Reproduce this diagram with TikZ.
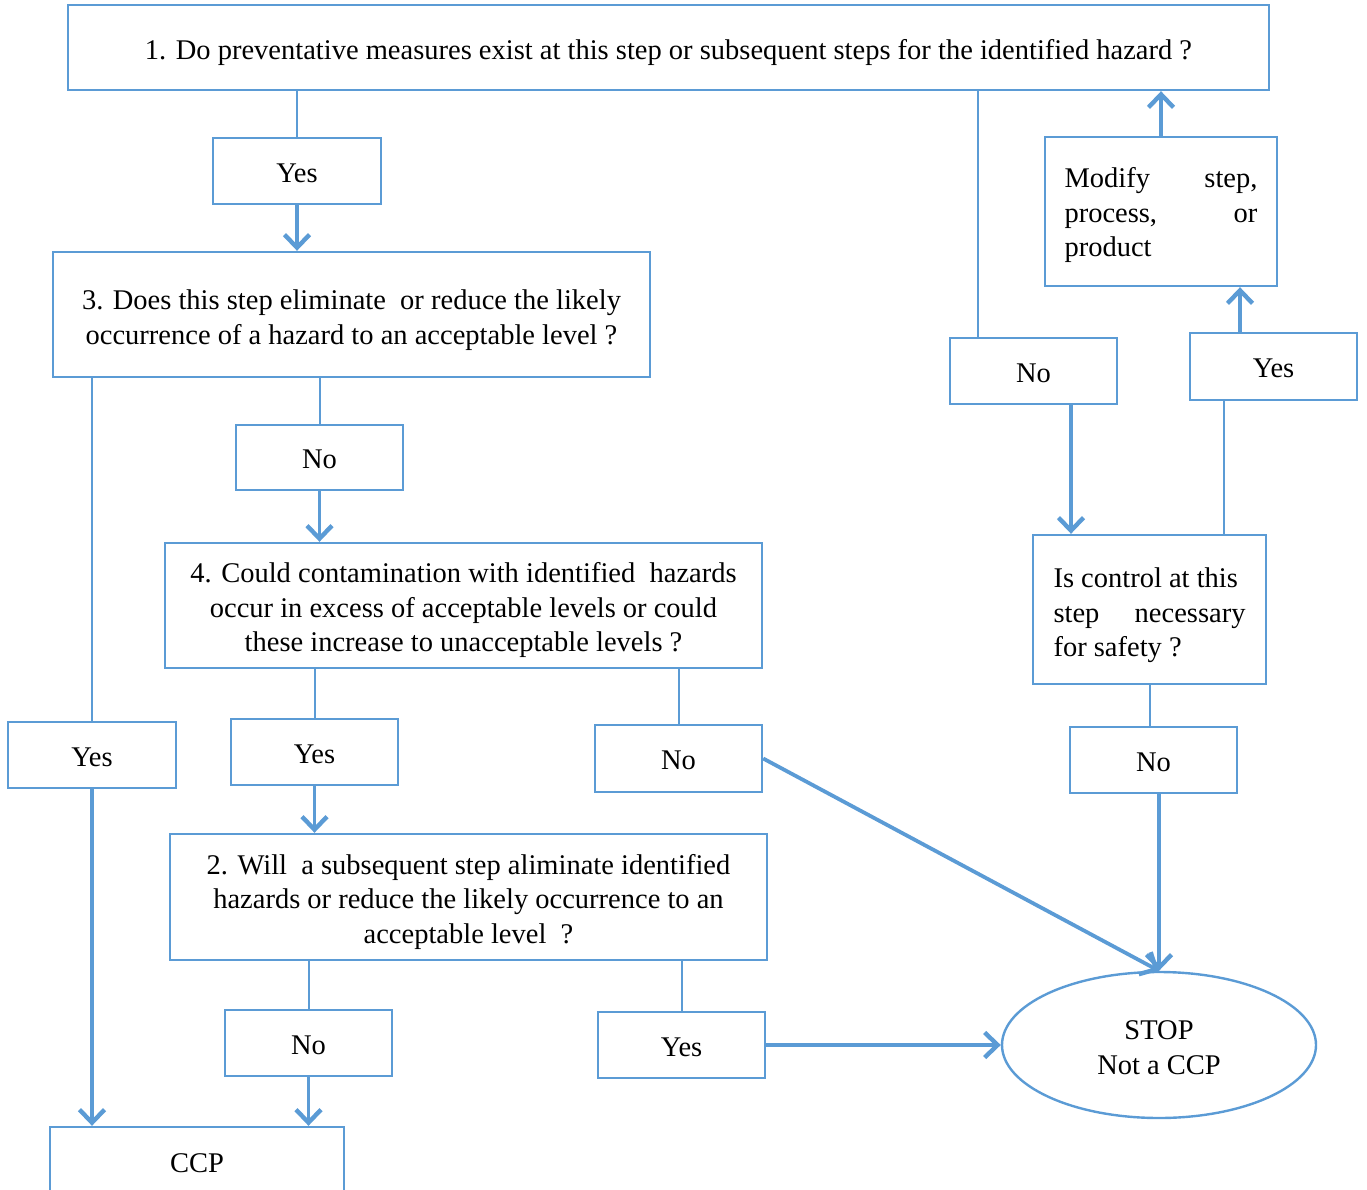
\documentclass[tikz,border=0pt]{standalone}
\usepackage{fontspec}
\setmainfont{Liberation Serif}
\usetikzlibrary{arrows.meta,shapes.geometric}
\definecolor{flowblue}{HTML}{5B9BD5}
% text lines set as a small table, drawn #1 lower than the box it is centred in
\newcommand\lowlines[3]{\raisebox{-#1}[\height][\depth]{\begin{tabular}{@{}#2@{}}#3\end{tabular}}}
\begin{document}
\begin{tikzpicture}[x=1pt,y=-1pt,
  font=\fontsize{28.5}{34.5}\selectfont,
  box/.style={draw=flowblue,line width=2.4pt,rectangle,inner sep=0pt},
  link/.style={draw=flowblue,line width=2pt},
  arr/.style={draw=flowblue,line width=3.8pt,-{Straight Barb[length=13pt,width=25pt,line width=4.4pt]}},
  every node/.style={text=black}]
\useasboundingbox (0,0) rectangle (1367,1190);
\clip (0,0) rectangle (1367,1190);

% question boxes
\node[box,minimum width=1201pt,minimum height=85pt] (b1) at (668.5,47.5)
  {\lowlines{5pt}{c}{1. Do preventative measures exist at this step or subsequent steps for the identified hazard ?}};
\node[box,minimum width=597pt,minimum height=125pt] (b3) at (351.5,314.5)
  {\lowlines{5.5pt}{c}{3. Does this step eliminate\ \ or reduce the likely\\occurrence of a hazard to an acceptable level ?}};
\node[box,minimum width=597pt,minimum height=125pt] (b4) at (463.5,605.5)
  {\lowlines{5pt}{c}{4. Could contamination with identified\ \ hazards\\occur in excess of acceptable levels or could\\these increase to unacceptable levels ?}};
\node[box,minimum width=597pt,minimum height=126pt] (b2) at (468.5,897)
  {\lowlines{5pt}{c}{2. Will\ \ a subsequent step aliminate identified\\hazards or reduce the likely occurrence to an\\acceptable level\ \ ?}};
\node[box,minimum width=233pt,minimum height=149pt] (ctl) at (1149.5,609.5)
  {\lowlines{6pt}{l}{Is control at this\\\makebox[192pt][s]{step necessary}\\for safety ?}};
\node[box,minimum width=232pt,minimum height=149pt] (mod) at (1161,211.5)
  {\lowlines{4pt}{l}{\makebox[193pt][s]{Modify step,}\\\makebox[193pt][s]{process, or}\\product}};

% answer boxes
\node[box,minimum width=168pt,minimum height=66pt] (y1) at (297,171) {\lowlines{4.5pt}{c}{Yes}};
\node[box,minimum width=167pt,minimum height=65pt] (n3) at (319.5,457.5) {\lowlines{4.5pt}{c}{No}};
\node[box,minimum width=168pt,minimum height=66pt] (yL) at (92,755) {\lowlines{4.5pt}{c}{Yes}};
\node[box,minimum width=167pt,minimum height=66pt] (y4) at (314.5,752) {\lowlines{4.5pt}{c}{Yes}};
\node[box,minimum width=167pt,minimum height=67pt] (n4) at (678.5,758.5) {\lowlines{4.5pt}{c}{No}};
\node[box,minimum width=167pt,minimum height=66pt] (n2) at (308.5,1043) {\lowlines{4.5pt}{c}{No}};
\node[box,minimum width=167pt,minimum height=66pt] (y2) at (681.5,1045) {\lowlines{4.5pt}{c}{Yes}};
\node[box,minimum width=167pt,minimum height=66pt] (nR) at (1033.5,371) {\lowlines{4.5pt}{c}{No}};
\node[box,minimum width=167pt,minimum height=66pt] (nR2) at (1153.5,760) {\lowlines{4.5pt}{c}{No}};
\node[box,minimum width=167pt,minimum height=67pt] (yR) at (1273.5,366.5) {\lowlines{4.5pt}{c}{Yes}};

% outcomes
\node[draw=flowblue,line width=2.4pt,ellipse,minimum width=314pt,minimum height=146pt,inner sep=0pt]
  (stop) at (1159,1045) {\lowlines{5pt}{c}{STOP\\Not a CCP}};
\node[box,minimum width=294pt,minimum height=90pt] (ccp) at (197,1172) {\lowlines{-6.5pt}{c}{CCP}};

% connectors
\draw[link] (y1.north |- b1.south) -- (y1.north);
\draw[arr] (y1.south) -- (y1.south |- b3.north);
\draw[link] (yL.north |- b3.south) -- (yL.north);
\draw[arr] (yL.south) -- (yL.south |- ccp.north);
\draw[link] (n3.north |- b3.south) -- (n3.north);
\draw[arr] (n3.south) -- (n3.south |- b4.north);
\draw[link] (y4.north |- b4.south) -- (y4.north);
\draw[arr] (y4.south) -- (y4.south |- b2.north);
\draw[link] (n4.north |- b4.south) -- (n4.north);
\draw[arr] (n4.east) -- (stop.north);
\draw[link] (n2.north |- b2.south) -- (n2.north);
\draw[arr] (n2.south) -- (n2.south |- ccp.north);
\draw[link] (y2.north |- b2.south) -- (y2.north);
\draw[arr] (y2.east) -- (stop.west);
\draw[link] (b1.south -| 978,0) -- (nR.north -| 978,0);
\draw[arr] (nR.south -| 1071,0) -- (ctl.north -| 1071,0);
\draw[link] (ctl.south -| 1150,0) -- (nR2.north -| 1150,0);
\draw[arr] (nR2.south -| stop.north) -- (stop.north);
\draw[link] (ctl.north -| 1224,0) -- (yR.south -| 1224,0);
\draw[arr] (yR.north -| 1240,0) -- (mod.south -| 1240,0);
\draw[arr] (mod.north) -- (mod.north |- b1.south);
\end{tikzpicture}
\end{document}
